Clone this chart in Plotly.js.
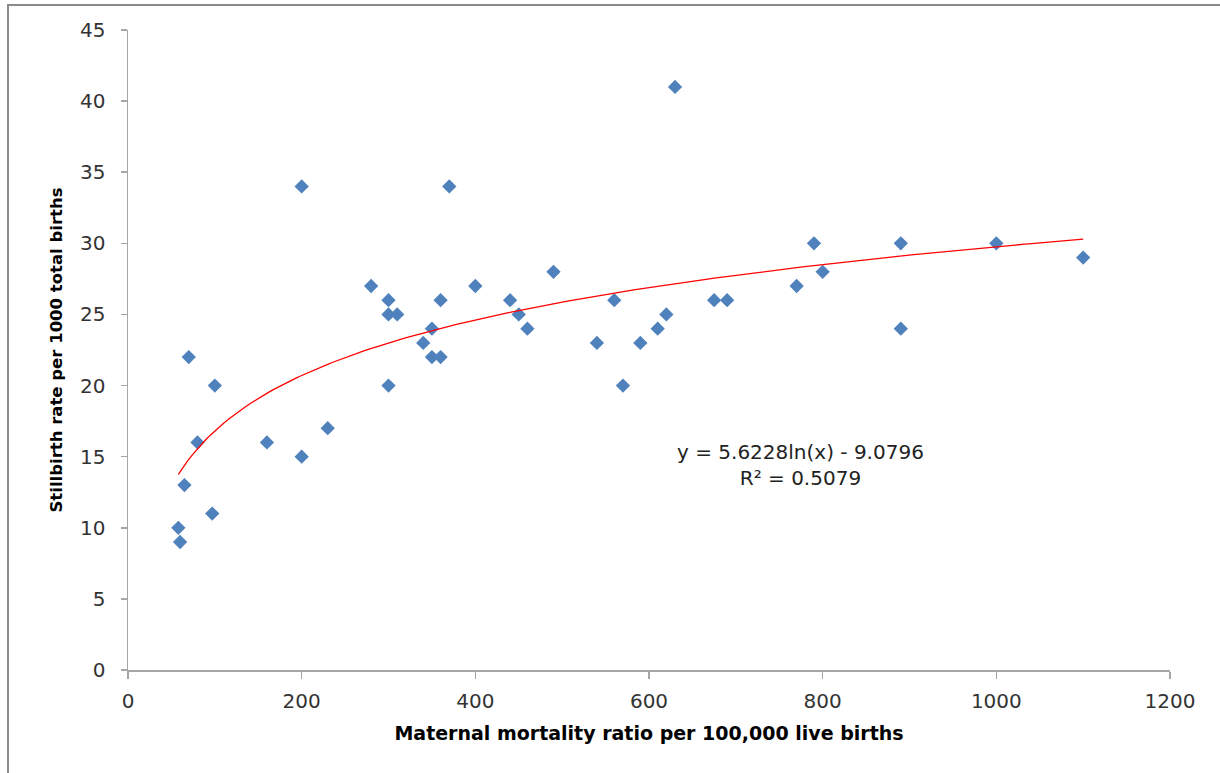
<!DOCTYPE html>
<html>
<head>
<meta charset="utf-8">
<script src="https://cdn.plot.ly/plotly-3.0.1.min.js"></script>
<style>
  html, body { margin: 0; padding: 0; background: #fff; }
  #wrap { position: relative; width: 1220px; height: 773px; overflow: hidden; }
  #chart { position: absolute; left: 0; top: 0; width: 1220px; height: 773px; }
  #frame { position: absolute; left: 7px; top: 4px; width: 1300px; height: 900px;
           border-top: 2px solid #8a8a8a; border-left: 2px solid #8a8a8a; pointer-events: none; }
</style>
</head>
<body>
<div id="wrap">
  <div id="chart"></div>
  <div id="frame"></div>
</div>
<script>
// Maternal mortality ratio per 100,000 live births
const mmr = [58, 60, 65, 70, 80, 97, 100, 160, 200, 200, 230, 280, 300, 300, 310, 300,
             340, 350, 350, 360, 360, 370, 400, 440, 450, 460, 490, 540, 560, 570, 590,
             610, 620, 630, 675, 690, 770, 790, 800, 890, 890, 1000, 1100];
// Stillbirth rate per 1000 total births
const stillbirth = [10, 9, 13, 22, 16, 11, 20, 16, 34, 15, 17, 27, 26, 25, 25, 20,
                    23, 24, 22, 22, 26, 34, 27, 26, 25, 24, 28, 23, 26, 20, 23,
                    24, 25, 41, 26, 26, 27, 30, 28, 30, 24, 30, 29];

// Logarithmic trendline shown in the chart: y = a*ln(x) + b
const trendA = 5.6228;
const trendB = -9.0796;
const trendLabel = "y = 5.6228ln(x) - 9.0796<br>R² = 0.5079";

const xTickVals = [0, 200, 400, 600, 800, 1000, 1200];
const yTickVals = [0, 5, 10, 15, 20, 25, 30, 35, 40, 45];

const xMin = Math.min(...mmr), xMax = Math.max(...mmr);
const trendX = [], trendY = [];
for (let i = 0; i <= 200; i++) {
  const x = xMin + (xMax - xMin) * i / 200;
  trendX.push(x);
  trendY.push(trendA * Math.log(x) + trendB);
}

const traces = [
  {
    x: mmr, y: stillbirth, type: 'scatter', mode: 'markers',
    marker: { symbol: 'diamond', size: 11, color: '#4F81BD', line: { width: 0 } },
    hoverinfo: 'x+y', showlegend: false
  },
  {
    x: trendX, y: trendY, type: 'scatter', mode: 'lines',
    line: { color: '#FF0000', width: 1.3 },
    hoverinfo: 'skip', showlegend: false
  }
];

const tickFont = { family: 'DejaVu Sans, sans-serif', size: 20, color: '#333333' };

const layout = {
  width: 1220, height: 773,
  margin: { l: 128, r: 50, t: 30, b: 103 },
  paper_bgcolor: '#ffffff', plot_bgcolor: '#ffffff',
  showlegend: false,
  xaxis: {
    range: [0, 1200], tickvals: xTickVals, ticktext: xTickVals.map(String),
    showgrid: false, zeroline: false,
    showline: true, linecolor: '#a6a6a6', linewidth: 2,
    ticks: 'outside', ticklen: 7, tickcolor: '#a6a6a6', tickwidth: 1.5,
    tickfont: tickFont, ticklabelstandoff: 5,
    title: { text: 'Maternal mortality ratio per 100,000 live births',
             font: { family: 'DejaVu Sans, sans-serif', size: 19, color: '#000000', weight: 'bold' },
             standoff: 15 }
  },
  yaxis: {
    range: [0, 45], tickvals: yTickVals, ticktext: yTickVals.map(String),
    showgrid: false, zeroline: false,
    showline: true, linecolor: '#a6a6a6', linewidth: 1.5,
    ticks: 'outside', ticklen: 6, tickcolor: '#a6a6a6', tickwidth: 1.5,
    tickfont: tickFont, ticklabelstandoff: 11,
    title: { text: 'Stillbirth rate per 1000 total births',
             font: { family: 'DejaVu Sans, sans-serif', size: 16.5, color: '#000000', weight: 'bold' },
             standoff: 13 }
  },
  annotations: [
    {
      x: 775, y: 14.4, xref: 'x', yref: 'y',
      text: trendLabel, showarrow: false, align: 'center',
      font: { family: 'DejaVu Sans, sans-serif', size: 20, color: '#222222' }
    }
  ]
};

Plotly.newPlot('chart', traces, layout, { displayModeBar: false, staticPlot: true });
</script>
</body>
</html>
